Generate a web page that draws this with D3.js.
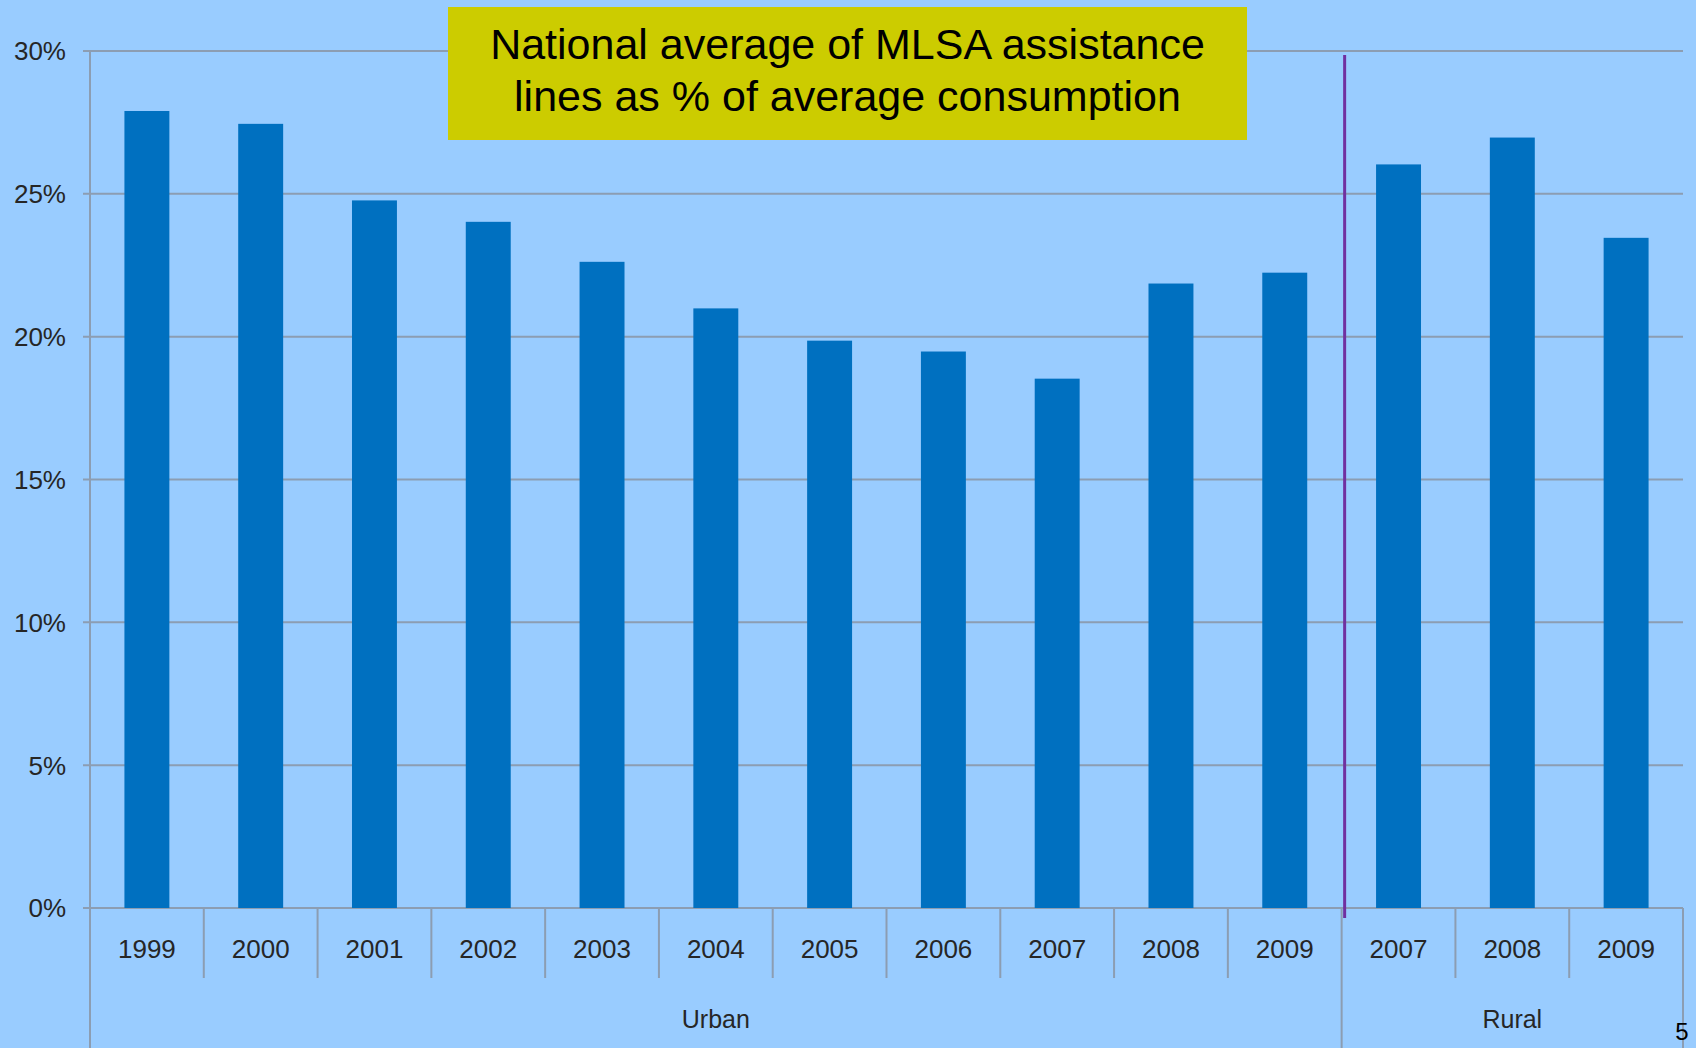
<!DOCTYPE html>
<html>
<head>
<meta charset="utf-8">
<script src="https://cdn.jsdelivr.net/npm/d3@7"></script>
<style>
  html, body { margin: 0; padding: 0; background: #99CCFF; overflow: hidden; }
  svg { display: block; font-family: "Liberation Sans", Arial, sans-serif; }
</style>
</head>
<body>
<svg id="chart" width="1696" height="1048"></svg>
<script>
// ---- data ----
const groups = ["Urban", "Urban", "Urban", "Urban", "Urban", "Urban", "Urban", "Urban", "Urban", "Urban", "Urban", "Rural", "Rural", "Rural"];
const years = ["1999", "2000", "2001", "2002", "2003", "2004", "2005", "2006", "2007", "2008", "2009", "2007", "2008", "2009"];
const values = [27.9, 27.45, 24.77, 24.02, 22.62, 20.99, 19.86, 19.48, 18.53, 21.86, 22.24, 26.03, 26.97, 23.46];
const yTicks = [0, 5, 10, 15, 20, 25, 30];
const titleLines = ["National average of MLSA assistance", "lines as % of average consumption"];
const pageNumber = "5";

// ---- layout ----
const W = 1696, H = 1048;
const mLeft = 90, mRight = 1683, mTop = 51, mBottom = 908;
const svg = d3.select("#chart");
svg.append("rect").attr("width", W).attr("height", H).attr("fill", "#99CCFF");

const keys = years.map((yr, i) => i);
const x = d3.scaleBand().domain(keys).range([mLeft, mRight]).padding(0);
const y = d3.scaleLinear().domain([0, 30]).range([mBottom, mTop]);

const gridColor = "#8C9DB2";
const labelColor = "#262626";

// gridlines
svg.append("g").selectAll("line").data(yTicks).join("line")
  .attr("x1", mLeft - 7).attr("x2", mRight)
  .attr("y1", d => y(d)).attr("y2", d => y(d))
  .attr("stroke", gridColor).attr("stroke-width", 2);

// y labels
svg.append("g").selectAll("text").data(yTicks).join("text")
  .attr("x", 66).attr("y", d => y(d))
  .attr("dy", "0.36em")
  .attr("text-anchor", "end")
  .attr("font-size", 26)
  .attr("fill", labelColor)
  .text(d => d + "%");

// left axis line
svg.append("line").attr("x1", mLeft).attr("x2", mLeft).attr("y1", mTop).attr("y2", H)
  .attr("stroke", gridColor).attr("stroke-width", 2);

// bars
const bw = x.bandwidth() * 0.395;
svg.append("g").selectAll("rect").data(values).join("rect")
  .attr("x", (d, i) => x(i) + x.bandwidth() / 2 - bw / 2)
  .attr("width", bw)
  .attr("y", d => y(d))
  .attr("height", d => y(0) - y(d))
  .attr("fill", "#0070C0");

// category boundaries
const boundaries = d3.range(1, years.length + 1);
svg.append("g").selectAll("line").data(boundaries).join("line")
  .attr("x1", i => i === years.length ? mRight : x(i))
  .attr("x2", i => i === years.length ? mRight : x(i))
  .attr("y1", mBottom)
  .attr("y2", i => (i === years.length || groups[i] !== groups[i - 1]) ? H : 978)
  .attr("stroke", gridColor).attr("stroke-width", 2);

// year labels
svg.append("g").selectAll("text").data(years).join("text")
  .attr("x", (d, i) => x(i) + x.bandwidth() / 2)
  .attr("y", 949).attr("dy", "0.36em")
  .attr("text-anchor", "middle")
  .attr("font-size", 26)
  .attr("fill", labelColor)
  .text(d => d);

// group labels
const groupNames = Array.from(new Set(groups));
svg.append("g").selectAll("text").data(groupNames).join("text")
  .attr("x", g => {
    const idx = groups.map((v, i) => v === g ? i : -1).filter(i => i >= 0);
    return (x(idx[0]) + x(idx[idx.length - 1]) + x.bandwidth()) / 2;
  })
  .attr("y", 1019).attr("dy", "0.36em")
  .attr("text-anchor", "middle")
  .attr("font-size", 25)
  .attr("fill", labelColor)
  .text(g => g);

// purple divider
const divX = x(groups.indexOf("Rural")) + 3;
svg.append("line").attr("x1", divX).attr("x2", divX).attr("y1", 55).attr("y2", 918)
  .attr("stroke", "#7030A0").attr("stroke-width", 3);

// title box
svg.append("rect").attr("x", 448).attr("y", 7).attr("width", 799).attr("height", 133)
  .attr("fill", "#CCCC00");
svg.append("g").selectAll("text").data(titleLines).join("text")
  .attr("x", 847.5).attr("y", (d, i) => 44 + i * 52).attr("dy", "0.36em")
  .attr("text-anchor", "middle")
  .attr("font-size", 43)
  .attr("fill", "#000")
  .text(d => d);

// page number
svg.append("text").attr("x", 1682).attr("y", 1040).attr("text-anchor", "middle")
  .attr("font-size", 24).attr("fill", "#000").text(pageNumber);
</script>
</body>
</html>
